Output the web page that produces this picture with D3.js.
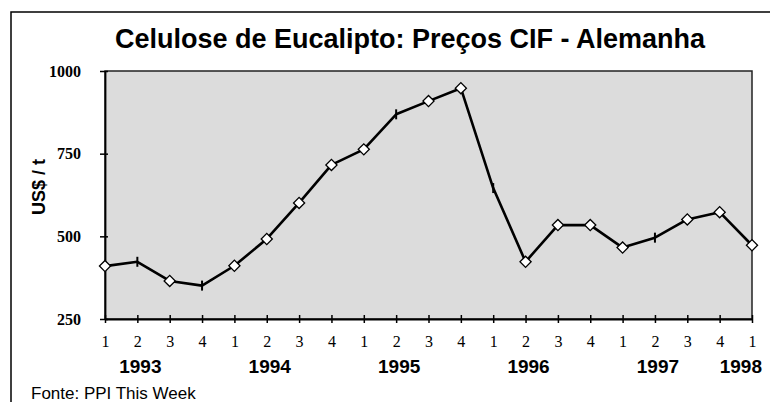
<!DOCTYPE html>
<html>
<head>
<meta charset="utf-8">
<script src="https://cdn.jsdelivr.net/npm/d3@7"></script>
<style>
  body { margin: 0; background: #fff; }
  svg { display: block; }
</style>
</head>
<body>
<div id="chart"></div>
<script>
// quarterly CIF prices, eucalyptus pulp, Germany (US$/t)
var quarterLabels = ["1","2","3","4","1","2","3","4","1","2","3","4","1","2","3","4","1","2","3","4","1"];
var yearLabels = ["1993","1994","1995","1996","1997","1998"];
var quartersPerYear = [4, 4, 4, 4, 4, 1];
var prices = [410, 423, 365, 351, 411, 492, 601, 716, 763, 869, 909, 948, 646, 423, 534, 534, 466, 496, 551, 573, 473];
// "d" = diamond marker, "t" = short vertical dash
var markerTypes = ["d","t","d","t","d","d","d","d","d","t","d","d","t","d","d","d","d","t","d","d","d"];
var yTicks = [250, 500, 750, 1000];

var width = 770;
var height = 402;
var plot = {left: 105, right: 752, top: 71, bottom: 319};

var svg = d3.select("#chart").append("svg")
  .attr("width", width)
  .attr("height", height);

/* outer frame (runs off the right and bottom edge) */
svg.append("rect")
  .attr("x", 11).attr("y", 12)
  .attr("width", 820).attr("height", 420)
  .attr("fill", "none")
  .attr("stroke", "#000")
  .attr("stroke-width", 1.5);

/* Scales */
var idx = d3.range(prices.length);
var xScale = d3.scalePoint()
  .domain(idx)
  .range([plot.left, plot.right]);

var yScale = d3.scaleLinear()
  .domain([250, 1000])
  .range([plot.bottom, plot.top]);

/* plot background */
svg.append("rect")
  .attr("x", plot.left).attr("y", plot.top)
  .attr("width", plot.right - plot.left)
  .attr("height", plot.bottom - plot.top)
  .attr("fill", "#dcdcdc")
  .attr("stroke", "#222")
  .attr("stroke-width", 1.5);

/* Axes */
var yAxis = d3.axisLeft(yScale)
  .tickValues(yTicks)
  .tickFormat(d3.format("d"))
  .tickSizeInner(5).tickSizeOuter(0).tickPadding(19);
var gy = svg.append("g")
  .attr("class", "y axis")
  .attr("transform", `translate(${plot.left},0)`)
  .call(yAxis);
gy.select(".domain").attr("stroke", "#000").attr("stroke-width", 1.8);
gy.selectAll(".tick line").attr("x1", 3).attr("stroke", "#000").attr("stroke-width", 1.5);
gy.selectAll(".tick text")
  .attr("fill", "#000")
  .style("font-family", "'Liberation Serif', 'Times New Roman', serif")
  .style("font-weight", "bold")
  .style("font-size", "16px");

var xAxis = d3.axisBottom(xScale)
  .tickFormat(i => quarterLabels[i])
  .tickSizeInner(4).tickSizeOuter(0).tickPadding(13);
var gx = svg.append("g")
  .attr("class", "x axis")
  .attr("transform", `translate(0,${plot.bottom})`)
  .call(xAxis);
gx.select(".domain").attr("stroke", "#000").attr("stroke-width", 1.8);
gx.selectAll(".tick line").attr("y1", -4).attr("stroke", "#000").attr("stroke-width", 1.5);
gx.selectAll(".tick text")
  .attr("fill", "#000")
  .style("font-family", "'Liberation Serif', 'Times New Roman', serif")
  .style("font-size", "16px");

/* year labels under the quarters */
var start = 0;
yearLabels.forEach(function(yr, k) {
  var n = quartersPerYear[k];
  var single = n === 1;
  var xpos = single ? xScale(start) + 10 : xScale(start + 1) + 3;
  svg.append("text")
    .attr("x", xpos)
    .attr("y", 373)
    .attr("text-anchor", single ? "end" : "middle")
    .style("font-family", "'Liberation Sans', Arial, sans-serif")
    .style("font-weight", "bold")
    .style("font-size", "19px")
    .text(yr);
  start += n;
});

/* Line */
var line = d3.line()
  .x((d, i) => xScale(i))
  .y(d => yScale(d));

svg.append("path")
  .datum(prices)
  .attr("d", line)
  .attr("fill", "none")
  .attr("stroke", "#000")
  .attr("stroke-width", 2.6)
  .attr("stroke-linejoin", "round");

/* markers */
var diamond = d3.symbol().type(d3.symbolSquare).size(62);
svg.append("g").selectAll("path")
  .data(idx.filter(i => markerTypes[i] === "d")).enter()
  .append("path")
  .attr("d", diamond)
  .attr("transform", i => `translate(${xScale(i)},${yScale(prices[i])}) rotate(45)`)
  .attr("fill", "#fff")
  .attr("stroke", "#000")
  .attr("stroke-width", 1.3);

svg.append("g").selectAll("line")
  .data(idx.filter(i => markerTypes[i] === "t")).enter()
  .append("line")
  .attr("x1", i => xScale(i)).attr("x2", i => xScale(i))
  .attr("y1", i => yScale(prices[i]) - 5)
  .attr("y2", i => yScale(prices[i]) + 5)
  .attr("stroke", "#000")
  .attr("stroke-width", 2);

/* titles */
svg.append("text")
  .attr("x", 410)
  .attr("y", 48)
  .attr("text-anchor", "middle")
  .style("font-family", "'Liberation Sans', Arial, sans-serif")
  .style("font-weight", "bold")
  .style("font-size", "27px")
  .text("Celulose de Eucalipto: Preços CIF - Alemanha");

svg.append("text")
  .attr("transform", "translate(45,187) rotate(-90)")
  .attr("text-anchor", "middle")
  .style("font-family", "'Liberation Sans', Arial, sans-serif")
  .style("font-weight", "bold")
  .style("font-size", "18px")
  .text("US$ / t");

svg.append("text")
  .attr("x", 31)
  .attr("y", 399)
  .style("font-family", "'Liberation Sans', Arial, sans-serif")
  .style("font-size", "17px")
  .text("Fonte: PPI This Week");
</script>
</body>
</html>
